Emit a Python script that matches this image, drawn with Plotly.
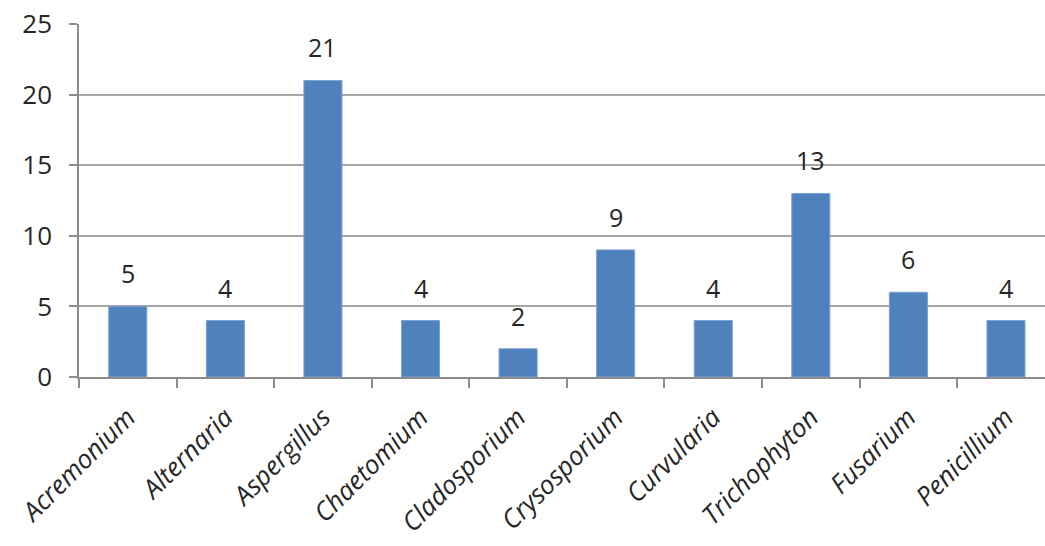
import plotly.graph_objects as go

genera = ["Acremonium", "Alternaria", "Aspergillus", "Chaetomium", "Cladosporium",
          "Crysosporium", "Curvularia", "Trichophyton", "Fusarium", "Penicillium"]
counts = [5, 4, 21, 4, 2, 9, 4, 13, 6, 4]
y_ticks = [0, 5, 10, 15, 20, 25]

FONT = "Open Sans"
TEXT = "#262626"

fig = go.Figure(
    go.Bar(
        x=genera,
        y=counts,
        marker=dict(color="#4f81bd", line=dict(color="#7da2d0", width=1)),
        width=0.39,
        hoverinfo="skip",
    )
)

# value labels above each bar
for g, c in zip(genera, counts):
    fig.add_annotation(
        x=g, y=c, text=str(c), showarrow=False,
        yanchor="bottom", yshift=14,
        font=dict(family=FONT, size=25, color=TEXT),
    )

fig.update_layout(
    width=1045, height=546,
    margin=dict(l=79, r=0, t=24, b=169),
    paper_bgcolor="white", plot_bgcolor="white",
    showlegend=False,
    xaxis=dict(
        type="category",
        range=[-0.5, 9.4],
        automargin=False,
        showline=True, linecolor="#8c8c8c", linewidth=1.5,
        ticks="outside", tickson="boundaries", ticklen=9, tickcolor="#8c8c8c", tickwidth=1.5,
        tickangle=-45,
        ticklabelstandoff=13,
        tickfont=dict(family=FONT, size=26, color=TEXT, style="italic"),
        showgrid=False,
    ),
    yaxis=dict(
        range=[0, 25],
        tickvals=y_ticks,
        automargin=False,
        showline=True, linecolor="#8c8c8c", linewidth=1.5,
        ticks="outside", ticklen=8, tickcolor="#8c8c8c", tickwidth=1.5,
        showgrid=True, gridcolor="#a6a6a6", gridwidth=1.5,
        zeroline=False,
        ticklabelstandoff=12,
        tickfont=dict(family=FONT, size=26, color=TEXT),
    ),
)

fig.write_html("out.html")
